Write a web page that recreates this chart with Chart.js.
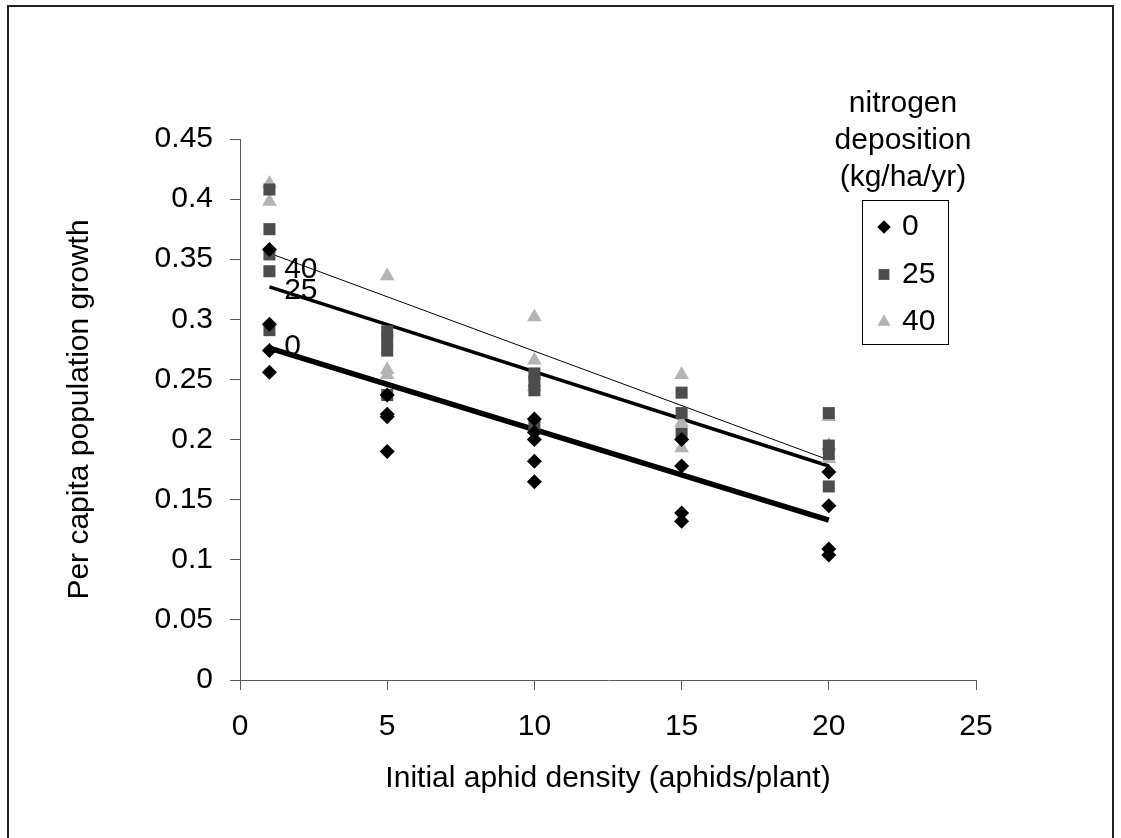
<!DOCTYPE html>
<html>
<head>
<meta charset="utf-8">
<script src="https://cdn.jsdelivr.net/npm/chart.js@4.4.0/dist/chart.umd.min.js"></script>
<style>
  html, body { margin: 0; padding: 0; background: #fff; }
  canvas { display: block; }
</style>
</head>
<body>
<canvas id="chart" width="1121" height="838"></canvas>
<script>
// nitrogen deposition 0 kg/ha/yr
var x0 = [1, 1, 1, 1, 5, 5, 5, 5, 10, 10, 10, 10, 10, 15, 15, 15, 15, 20, 20, 20, 20];
var y0 = [0.358, 0.296, 0.274, 0.256, 0.237, 0.221, 0.219, 0.190, 0.217, 0.206, 0.200, 0.182, 0.165, 0.200, 0.178, 0.139, 0.132, 0.173, 0.145, 0.109, 0.104];
// 25 kg/ha/yr
var x25 = [1, 1, 1, 1, 1, 5, 5, 5, 5, 10, 10, 10, 10, 15, 15, 15, 20, 20, 20, 20];
var y25 = [0.408, 0.375, 0.354, 0.340, 0.291, 0.290, 0.283, 0.274, 0.237, 0.255, 0.248, 0.241, 0.212, 0.239, 0.222, 0.205, 0.222, 0.195, 0.188, 0.161];
// 40 kg/ha/yr
var x40 = [1, 1, 5, 5, 5, 10, 10, 10, 15, 15, 15, 20, 20, 20];
var y40 = [0.413, 0.398, 0.336, 0.258, 0.254, 0.302, 0.266, 0.244, 0.254, 0.214, 0.193, 0.219, 0.195, 0.184];

// regression lines (ends)
var fitX = [1, 20];
var fit0 = [0.276, 0.133];
var fit25 = [0.327, 0.178];
var fit40 = [0.355, 0.183];

// labels written next to the lines
var lineLabels = ['40', '25', '0'];
var lineLabelX = 1.5;
var lineLabelY = [0.341, 0.324, 0.277];

var seriesNames = ['0', '25', '40'];
var legendTitle = ['nitrogen', 'deposition', '(kg/ha/yr)'];

var FONT = '"Liberation Sans", Arial, sans-serif';
var colors = ['#000000', '#4d4d4d', '#b4b4b4'];
var styles = ['rectRot', 'rect', 'triangle'];
var radii = [7.5, 8.5, 8.5];

function pts(xs, ys) {
  var out = [];
  for (var i = 0; i < xs.length; i++) out.push({x: xs[i], y: ys[i]});
  return out;
}

function marker(ctx, style, x, y, r) {
  ctx.beginPath();
  if (style == 'rectRot') {
    ctx.moveTo(x, y - r); ctx.lineTo(x + r, y); ctx.lineTo(x, y + r); ctx.lineTo(x - r, y);
  } else if (style == 'rect') {
    var s = r * Math.SQRT1_2;
    ctx.rect(x - s, y - s, 2 * s, 2 * s);
  } else {
    ctx.moveTo(x, y - r); ctx.lineTo(x + r * 0.866, y + r / 2); ctx.lineTo(x - r * 0.866, y + r / 2);
  }
  ctx.closePath();
  ctx.fill();
}

var extras = {
  id: 'extras',
  beforeDraw: function(chart) {
    var ctx = chart.ctx;
    ctx.save();
    ctx.strokeStyle = '#222';
    ctx.lineWidth = 2;
    ctx.strokeRect(8, 6, 1105, 860);
    ctx.restore();
  },
  afterDatasetsDraw: function(chart) {
    var ctx = chart.ctx, xs = chart.scales.x, ys = chart.scales.y;
    ctx.save();
    ctx.font = '30px ' + FONT;
    ctx.fillStyle = '#000';
    ctx.textBaseline = 'middle';
    ctx.textAlign = 'left';
    for (var i = 0; i < lineLabels.length; i++) {
      ctx.fillText(lineLabels[i], xs.getPixelForValue(lineLabelX), ys.getPixelForValue(lineLabelY[i]));
    }
    // legend
    ctx.textAlign = 'center';
    for (var j = 0; j < legendTitle.length; j++) ctx.fillText(legendTitle[j], 903, 104 + j * 37);
    ctx.strokeStyle = '#000';
    ctx.lineWidth = 1;
    ctx.strokeRect(862.5, 200.5, 86, 144);
    ctx.textAlign = 'left';
    for (var k = 0; k < seriesNames.length; k++) {
      var yy = 227 + k * 47.5;
      ctx.fillStyle = colors[k];
      marker(ctx, styles[k], 884, yy, radii[k] * 0.9);
      ctx.fillStyle = '#000';
      ctx.fillText(seriesNames[k], 902, yy);
    }
    ctx.restore();
  }
};

var datasets = [
  {data: pts(x0, y0), pointStyle: 'rectRot', pointRadius: radii[0], backgroundColor: colors[0], borderWidth: 0, order: 1},
  {data: pts(x25, y25), pointStyle: 'rect', pointRadius: radii[1], backgroundColor: colors[1], borderWidth: 0, order: 2},
  {data: pts(x40, y40), pointStyle: 'triangle', pointRadius: radii[2], backgroundColor: colors[2], borderWidth: 0, order: 3},
  {data: pts(fitX, fit0), showLine: true, borderColor: '#000', borderWidth: 5.5, pointRadius: 0, order: 10},
  {data: pts(fitX, fit25), showLine: true, borderColor: '#000', borderWidth: 3.5, pointRadius: 0, order: 11},
  {data: pts(fitX, fit40), showLine: true, borderColor: '#000', borderWidth: 1, pointRadius: 0, order: 12}
];

var axisColor = '#5a5a5a';

new Chart(document.getElementById('chart'), {
  type: 'scatter',
  data: {datasets: datasets},
  options: {
    responsive: false,
    animation: false,
    layout: {padding: {top: 139, right: 145, left: 0, bottom: 0}},
    plugins: {legend: {display: false}, tooltip: {enabled: false}},
    scales: {
      x: {
        type: 'linear', min: 0, max: 25,
        afterFit: function(s) { s.height = 158; },
        ticks: {stepSize: 5, color: '#000', padding: 19, font: {family: FONT, size: 30}},
        grid: {drawOnChartArea: false, tickLength: 10, color: axisColor},
        border: {color: axisColor, width: 1},
        title: {display: true, text: 'Initial aphid density (aphids/plant)', color: '#000',
                font: {family: FONT, size: 30}, padding: {top: 0, bottom: 41}}
      },
      y: {
        type: 'linear', min: 0, max: 0.45,
        afterFit: function(s) { s.width = 240; },
        ticks: {stepSize: 0.05, color: '#000', padding: 17, font: {family: FONT, size: 30},
                callback: function(v) { return String(Math.round(v * 100) / 100); }},
        grid: {drawOnChartArea: false, tickLength: 10, color: axisColor},
        border: {color: axisColor, width: 1},
        title: {display: true, text: 'Per capita population growth', color: '#000',
                font: {family: FONT, size: 30}, padding: {top: 62, bottom: 0}}
      }
    }
  },
  plugins: [extras]
});
</script>
</body>
</html>
